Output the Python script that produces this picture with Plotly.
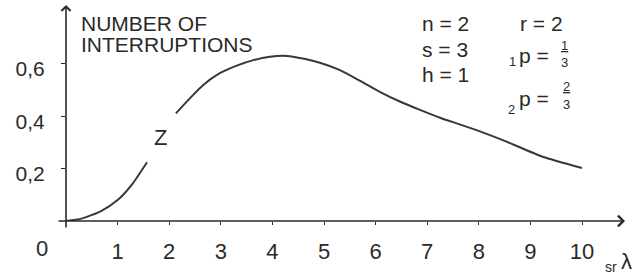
import plotly.graph_objects as go

# ---- data ----
x_lower = [0, 0.3, 0.68, 1.0, 1.3, 1.57]
y_lower = [0, 0.009, 0.038, 0.08, 0.145, 0.224]
x_upper = [2.13, 2.40, 2.66, 2.98, 3.31, 3.63, 3.95, 4.28, 4.66, 4.92, 5.31, 5.70,
           6.09, 6.47, 6.86, 7.25, 7.64, 8.02, 8.5, 9.24, 10.0]
y_upper = [0.411, 0.468, 0.519, 0.564, 0.593, 0.614, 0.627, 0.630, 0.617, 0.604, 0.576, 0.535,
           0.492, 0.456, 0.424, 0.394, 0.368, 0.342, 0.306, 0.245, 0.202]

x_ticks = [1, 2, 3, 4, 5, 6, 7, 8, 9, 10]
x_tick_labels = ["1", "2", "3", "4", "5", "6", "7", "8", "9", "10"]
y_ticks = [0.2, 0.4, 0.6]
y_tick_labels = ["0,2", "0,4", "0,6"]

params_left = ["n = 2", "s = 3", "h = 1"]

# ---- layout geometry (pixels) ----
W, H = 634, 275
X0PX, UPX = 66, 51.6      # pixel of x=0 and pixels per x unit
Y0PX, UPY = 221, 262      # pixel of y=0 and pixels per y unit
ML, MR, MT = 66, 9, 5
MB = H - Y0PX
PW, PH = W - ML - MR, H - MT - MB

def dx(px):
    return (px - X0PX) / UPX

def dy(py):
    return (Y0PX - py) / UPY

def px_paper(px):
    return (px - ML) / PW

def py_paper(py):
    return (H - MB - py) / PH

XMAX = dx(W - MR)
YMAX = dy(MT)

INK = "#2a2a2a"
FONT = "Liberation Sans"

x_all = x_lower + [None] + x_upper
y_all = y_lower + [None] + y_upper

fig = go.Figure()
fig.add_trace(go.Scatter(x=x_all, y=y_all, mode="lines",
                         line=dict(color="#383838", width=2, shape="spline", smoothing=0.6),
                         connectgaps=False, hoverinfo="skip", showlegend=False))

ann = []
# axis arrows
ann.append(dict(x=XMAX, y=0, ax=dx(57), ay=0, xref="x", yref="y", axref="x", ayref="y",
                text="", showarrow=True, arrowhead=4, arrowsize=1.3, arrowwidth=1.6, arrowcolor=INK))
ann.append(dict(x=0, y=YMAX, ax=0, ay=dy(229), xref="x", yref="y", axref="x", ayref="y",
                text="", showarrow=True, arrowhead=4, arrowsize=1.1, arrowwidth=1.6, arrowcolor=INK))

def txt(t, px, py, size, xanchor="center", yanchor="middle"):
    ann.append(dict(x=px_paper(px), y=py_paper(py), xref="paper", yref="paper", text=t,
                    showarrow=False, xanchor=xanchor, yanchor=yanchor,
                    font=dict(family=FONT, size=size, color=INK)))

txt("NUMBER OF", 79, 23, 21, xanchor="left")
txt("INTERRUPTIONS", 79, 44, 21, xanchor="left")
for i, t in enumerate(params_left):
    txt(t, 420, 24 + 25 * i, 21, xanchor="left")
txt("r = 2", 518, 24, 21, xanchor="left")
# 1p = 1/3
txt("1", 512, 62, 13)
txt("p = ", 517, 55, 21, xanchor="left")
txt("<u>1</u>", 564, 46, 13)
txt("3", 564, 63, 13)
# 2p = 2/3
txt("2", 511, 109, 13)
txt("p = ", 517, 98, 21, xanchor="left")
txt("<u>2</u>", 566, 86, 13)
txt("3", 566, 104, 13)
# curve label
txt("Z", 160, 137, 22)
# origin label and axis variable
txt("0", 42, 249, 22)
txt("sr", 611, 267, 14)
txt("λ", 626, 261, 22)

fig.update_layout(
    width=W, height=H,
    margin=dict(l=ML, r=MR, t=MT, b=MB),
    paper_bgcolor="white", plot_bgcolor="white",
    annotations=ann,
    xaxis=dict(range=[0, XMAX], showgrid=False, zeroline=False, showline=False,
               tickmode="array", tickvals=x_ticks, ticktext=x_tick_labels,
               ticks="outside", ticklen=3, tickwidth=1.3, tickcolor=INK,
               tickfont=dict(family=FONT, size=22, color=INK), ticklabelstandoff=8),
    yaxis=dict(range=[0, YMAX], showgrid=False, zeroline=False, showline=False,
               tickmode="array", tickvals=y_ticks, ticktext=y_tick_labels,
               ticks="outside", ticklen=4, tickwidth=1.3, tickcolor=INK,
               tickfont=dict(family=FONT, size=21, color=INK), ticklabelstandoff=12,
               ticklabelshift=5),
)

fig.write_html("out.html", config={"displayModeBar": False},
               post_script="document.body.style.margin='0';document.body.style.overflow='hidden';")
